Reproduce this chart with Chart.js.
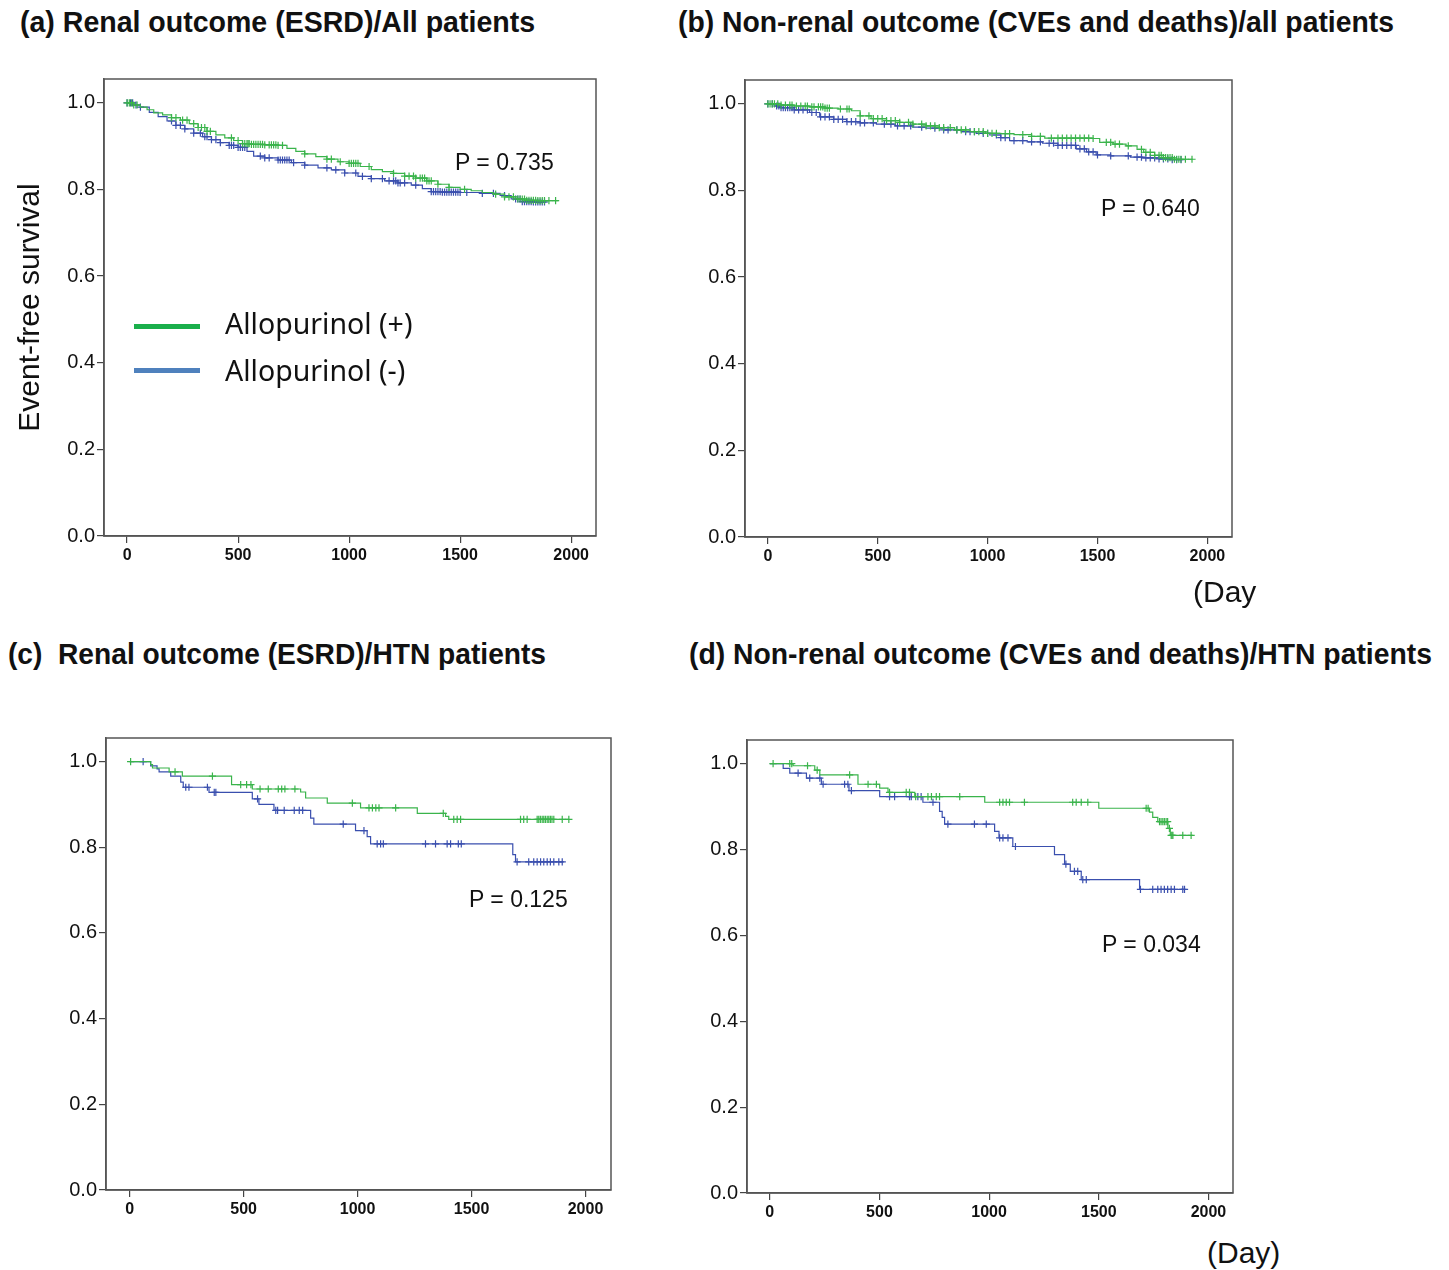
<!DOCTYPE html>
<html><head><meta charset="utf-8">
<script src="https://cdn.jsdelivr.net/npm/chart.js@4.4.1/dist/chart.umd.min.js"></script>
<style>
body{margin:0;background:#fff;width:1449px;height:1270px;position:relative;overflow:hidden;font-family:"Liberation Sans",Arial,sans-serif;color:#111}
canvas{position:absolute}
.ttl{position:absolute;white-space:nowrap;font-weight:bold;font-size:30px;line-height:1;transform-origin:left center}
.pv{position:absolute;white-space:nowrap;font-size:23px;line-height:1}
.day{position:absolute;white-space:nowrap;font-size:30px;line-height:1}
.lg{position:absolute;white-space:nowrap;font-family:"Noto Sans",sans-serif;font-size:28.5px;line-height:1}
.ln{position:absolute;height:5px}
</style>
</head><body>

<div class="ttl" id="ta" style="left:20px;top:7px" data-w="515">(a) Renal outcome (ESRD)/All patients</div>
<div class="ttl" id="tb" style="left:678px;top:7px" data-w="716">(b) Non-renal outcome (CVEs and deaths)/all patients</div>
<div class="ttl" id="tc" style="left:8px;top:639px" data-w="538">(c)&nbsp; Renal outcome (ESRD)/HTN patients</div>
<div class="ttl" id="td" style="left:689px;top:639px" data-w="743">(d) Non-renal outcome (CVEs and deaths)/HTN patients</div>

<canvas id="ca" width="598" height="513" style="left:10px;top:63px"></canvas>
<canvas id="cb" width="563" height="513" style="left:681px;top:64px"></canvas>
<canvas id="cc" width="581" height="508" style="left:42px;top:722px"></canvas>
<canvas id="cd" width="562" height="509" style="left:683px;top:724px"></canvas>

<div class="ln" style="left:134px;top:324px;width:66px;background:#1aaf4b"></div>
<div class="ln" style="left:134px;top:368px;width:66px;background:#4f81bd"></div>
<div class="lg" id="lg1" style="left:225px;top:309px"></div>
<div class="lg" id="lg2" style="left:225px;top:356px"></div>

<div class="pv" id="pa" style="left:455px;top:151px"></div>
<div class="pv" id="pb" style="left:1101px;top:197px"></div>
<div class="pv" id="pc" style="left:469px;top:888px"></div>
<div class="pv" id="pd" style="left:1102px;top:933px"></div>

<div class="day" style="left:1193px;top:577px">(Day</div>
<div class="day" style="left:1207px;top:1238px">(Day)</div>

<script>
// ---------- data ----------
const seriesNames = ["Allopurinol (+)", "Allopurinol (-)"];
const pValues = ["P = 0.735", "P = 0.640", "P = 0.125", "P = 0.034"];
const xTicks = [0, 500, 1000, 1500, 2000];
const yTicks = [0.0, 0.2, 0.4, 0.6, 0.8, 1.0];
const yAxisTitle = "Event-free survival";

// (a) Renal outcome / all patients
const aGreenT = [0,30,60,90,120,160,200,240,280,320,360,400,440,480,520,560,620,680,720,760,800,850,900,950,1000,1050,1100,1150,1200,1250,1300,1350,1400,1450,1500,1550,1600,1650,1700,1750,1800,1850,1943];
const aGreenS = [1.0,0.995,0.99,0.984,0.977,0.972,0.966,0.960,0.952,0.943,0.934,0.926,0.919,0.913,0.906,0.904,0.903,0.902,0.895,0.888,0.882,0.876,0.870,0.864,0.860,0.853,0.846,0.841,0.837,0.831,0.826,0.820,0.812,0.805,0.800,0.797,0.793,0.789,0.783,0.778,0.775,0.774,0.774];
const aGreenC = [0,10,20,30,45,200,220,250,270,300,320,335,350,360,375,470,500,520,530,540,545,550,560,570,580,590,600,610,620,640,650,660,670,680,700,800,900,920,960,1000,1010,1020,1030,1040,1090,1200,1250,1270,1290,1300,1320,1330,1340,1350,1360,1370,1400,1450,1520,1660,1700,1720,1740,1760,1770,1780,1790,1800,1810,1820,1830,1840,1850,1860,1870,1880,1900,1930];
const aBlueT = [0,30,60,100,140,180,220,260,300,340,380,420,460,500,540,570,620,680,740,800,860,920,980,1040,1100,1160,1220,1280,1330,1370,1420,1500,1600,1680,1730,1780,1830,1890];
const aBlueS = [1.0,0.995,0.99,0.978,0.968,0.958,0.948,0.940,0.930,0.922,0.915,0.908,0.902,0.897,0.888,0.877,0.873,0.868,0.862,0.856,0.850,0.845,0.838,0.830,0.825,0.820,0.815,0.810,0.802,0.795,0.794,0.793,0.791,0.786,0.778,0.772,0.771,0.771];
const aBlueC = [0,15,25,40,60,200,220,240,260,300,330,350,360,380,400,420,460,470,480,500,510,520,530,600,620,640,680,690,700,710,720,730,750,800,900,940,980,1030,1060,1100,1150,1180,1200,1210,1220,1230,1250,1300,1370,1380,1390,1400,1410,1420,1430,1440,1450,1460,1470,1480,1490,1500,1530,1600,1650,1700,1750,1760,1770,1780,1790,1800,1810,1820,1830,1840,1850,1860,1870,1880];

// (b) Non-renal outcome / all patients
const bGreenT = [0,60,120,190,260,320,380,420,470,540,600,660,720,780,850,920,990,1060,1120,1200,1260,1350,1480,1510,1570,1630,1680,1710,1760,1800,1850,1933];
const bGreenS = [1.0,0.997,0.995,0.993,0.990,0.988,0.984,0.972,0.966,0.961,0.957,0.953,0.949,0.945,0.940,0.936,0.932,0.931,0.929,0.925,0.921,0.921,0.920,0.911,0.907,0.903,0.895,0.888,0.881,0.876,0.872,0.872];
const bGreenC = [0,10,20,30,45,60,80,100,110,130,150,170,180,200,210,230,240,250,260,270,280,330,360,370,420,460,480,500,520,540,560,580,600,640,660,700,720,740,760,780,800,830,860,880,900,940,960,980,1000,1020,1040,1080,1100,1160,1200,1240,1290,1320,1340,1360,1380,1400,1420,1440,1460,1480,1540,1560,1580,1600,1640,1700,1720,1740,1760,1780,1790,1800,1810,1820,1830,1840,1850,1860,1870,1880,1900,1930];
const bBlueT = [0,30,60,120,190,236,300,358,420,494,580,660,720,800,880,948,1010,1060,1100,1180,1250,1320,1403,1450,1494,1560,1650,1706,1780,1840,1888];
const bBlueS = [1.0,0.995,0.991,0.986,0.980,0.970,0.964,0.959,0.956,0.953,0.949,0.946,0.944,0.940,0.936,0.932,0.928,0.922,0.915,0.912,0.909,0.904,0.896,0.889,0.882,0.880,0.877,0.875,0.873,0.871,0.871];
const bBlueC = [0,20,40,50,60,70,80,90,100,110,120,140,160,180,200,220,240,260,280,300,320,340,360,380,400,420,440,480,530,560,590,620,650,700,760,800,820,860,900,920,940,980,1000,1040,1060,1080,1120,1160,1200,1240,1280,1300,1320,1340,1360,1380,1400,1420,1440,1460,1480,1500,1560,1640,1680,1700,1720,1740,1760,1780,1800,1820,1840,1860,1880];

// (c) Renal outcome / HTN patients
const cGreenT = [0,92,100,173,231,447,538,750,772,867,1013,1262,1386,1400,1927];
const cGreenS = [1.0,0.993,0.985,0.976,0.966,0.946,0.936,0.929,0.915,0.903,0.892,0.879,0.872,0.865,0.865];
const cGreenC = [4,199,363,487,513,532,572,608,652,667,681,725,977,1050,1065,1080,1094,1167,1376,1422,1437,1452,1715,1729,1744,1788,1795,1802,1810,1817,1824,1832,1839,1846,1853,1861,1898,1927];
const cBlueT = [0,92,120,129,180,224,235,348,538,567,633,794,808,991,1042,1057,1681,1693,1905];
const cBlueS = [1.0,0.990,0.983,0.976,0.966,0.952,0.940,0.928,0.913,0.900,0.886,0.868,0.854,0.839,0.825,0.808,0.783,0.766,0.766];
const cBlueC = [59,246,260,341,371,378,561,641,649,678,722,744,759,937,1028,1086,1101,1113,1298,1342,1393,1408,1442,1455,1700,1751,1773,1788,1803,1817,1832,1846,1861,1883,1898];

// (d) Non-renal outcome / HTN patients
const dGreenT = [0,106,205,228,402,501,539,661,980,1500,1731,1746,1769,1815,1826,1929];
const dGreenS = [1.0,0.995,0.985,0.974,0.952,0.943,0.933,0.923,0.910,0.896,0.887,0.875,0.865,0.849,0.833,0.833];
const dGreenC = [15,91,100,172,216,364,448,486,546,622,637,665,721,737,759,774,866,1048,1063,1078,1093,1161,1381,1397,1420,1450,1716,1725,1777,1784,1792,1799,1807,1814,1822,1830,1834,1838,1883,1921];
const dBlueT = [0,61,91,167,235,361,501,698,774,786,797,1025,1045,1108,1298,1344,1370,1420,1686,1891];
const dBlueS = [1.0,0.989,0.978,0.966,0.952,0.937,0.923,0.910,0.889,0.875,0.859,0.842,0.827,0.807,0.788,0.766,0.749,0.730,0.707,0.707];
const dBlueC = [129,182,228,243,341,356,372,546,569,637,645,675,690,744,812,933,987,1048,1063,1086,1120,1350,1389,1404,1427,1443,1690,1746,1769,1784,1799,1814,1830,1845,1883,1891];

// ---------- drawing ----------
const GREEN = '#3ab44b', BLUE = '#3a4fae';
Chart.defaults.font.family = '"Liberation Sans", Arial, sans-serif';
Chart.defaults.color = '#111';

function stepData(T, S) { return T.map((t, i) => ({x: t, y: S[i]})); }
function censorData(T, S, C) {
  return C.map(c => { let s = S[0]; for (let i = 0; i < T.length; i++) { if (T[i] <= c) s = S[i]; } return {x: c, y: s}; });
}
const framePlugin = {
  id: 'frame',
  afterDatasetsDraw(chart) {
    const a = chart.chartArea, ctx = chart.ctx;
    ctx.save(); ctx.strokeStyle = '#555'; ctx.lineWidth = 1.5;
    ctx.strokeRect(a.left, a.top, a.right - a.left, a.bottom - a.top);
    ctx.restore();
  }
};

function makePanel(id, yWidth, title, gT, gS, gC, bT, bS, bC) {
  const lineDs = (T, S, col, lbl) => ({type: 'line', label: lbl, data: stepData(T, S), stepped: 'before', borderColor: col, borderWidth: 1.2, pointRadius: 0, fill: false});
  const cenDs = (T, S, C, col, lbl) => ({type: 'scatter', label: lbl, data: censorData(T, S, C), pointStyle: 'cross', pointRadius: 3.6, borderColor: col, backgroundColor: col, pointBorderWidth: 1.2, showLine: false});
  new Chart(document.getElementById(id), {
    type: 'line',
    data: {datasets: [
      cenDs(gT, gS, gC, GREEN, seriesNames[0] + ' censored'),
      lineDs(gT, gS, GREEN, seriesNames[0]),
      cenDs(bT, bS, bC, BLUE, seriesNames[1] + ' censored'),
      lineDs(bT, bS, BLUE, seriesNames[1])
    ]},
    options: {
      animation: false, responsive: false,
      layout: {padding: {top: 16, right: 12, left: 0, bottom: 0}},
      plugins: {legend: {display: false}, tooltip: {enabled: false}},
      scales: {
        x: {
          type: 'linear', min: -104, max: 2112,
          afterBuildTicks: s => { s.ticks = xTicks.map(v => ({value: v})); },
          afterFit: s => { s.height = 40; },
          grid: {drawOnChartArea: false, drawTicks: true, tickLength: 7, color: '#444', lineWidth: 1.2},
          border: {display: true, color: '#555', width: 1.5},
          ticks: {font: {size: 16, weight: 'bold'}, color: '#111', padding: 3, maxRotation: 0, autoSkip: false, callback: v => String(v)}
        },
        y: {
          type: 'linear', min: 0, max: 1.055,
          afterBuildTicks: s => { s.ticks = yTicks.map(v => ({value: v})); },
          afterFit: s => { s.width = yWidth; },
          grid: {drawOnChartArea: false, drawTicks: true, tickLength: 7, color: '#444', lineWidth: 1.2},
          border: {display: true, color: '#555', width: 1.5},
          ticks: {font: {size: 20}, color: '#111', padding: 2, callback: v => Number(v).toFixed(1)},
          title: {display: !!title, text: title, font: {size: 30}, color: '#111', padding: {top: 3, bottom: 0}}
        }
      }
    },
    plugins: [framePlugin]
  });
}

makePanel('ca', 94, yAxisTitle, aGreenT, aGreenS, aGreenC, aBlueT, aBlueS, aBlueC);
makePanel('cb', 64, '', bGreenT, bGreenS, bGreenC, bBlueT, bBlueS, bBlueC);
makePanel('cc', 64, '', cGreenT, cGreenS, cGreenC, cBlueT, cBlueS, cBlueC);
makePanel('cd', 64, '', dGreenT, dGreenS, dGreenC, dBlueT, dBlueS, dBlueC);

document.getElementById('lg1').textContent = seriesNames[0];
document.getElementById('lg2').textContent = seriesNames[1];
['pa', 'pb', 'pc', 'pd'].forEach((id, i) => { document.getElementById(id).textContent = pValues[i]; });

// fit titles to their measured widths in the reference
document.querySelectorAll('.ttl').forEach(el => {
  const w = el.getBoundingClientRect().width, target = +el.dataset.w;
  el.style.transform = 'scaleX(' + (target / w).toFixed(4) + ')';
});
</script>
</body></html>
